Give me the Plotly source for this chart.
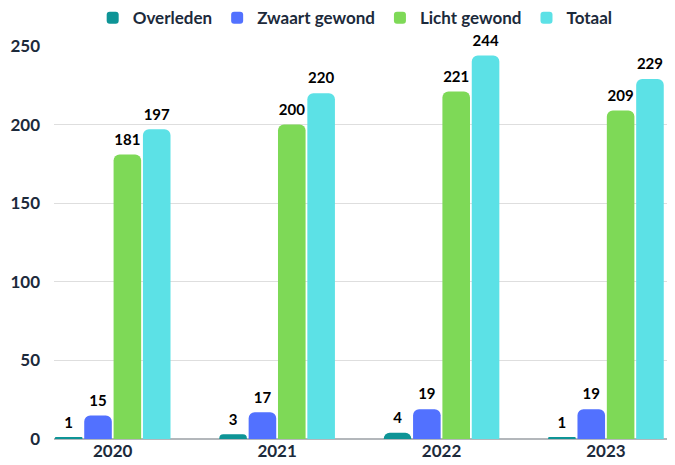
import plotly.graph_objects as go

# Verkeersslachtoffers per jaar
jaren = ["2020", "2021", "2022", "2023"]
overleden = [1, 3, 4, 1]
zwaar_gewond = [15, 17, 19, 19]
licht_gewond = [181, 200, 221, 209]
totaal = [197, 220, 244, 229]

reeksen = [
    ("Overleden", overleden, "#0e9496"),
    ("Zwaart gewond", zwaar_gewond, "#5271ff"),
    ("Licht gewond", licht_gewond, "#7ed957"),
    ("Totaal", totaal, "#5ce1e6"),
]

navy = "#1c2a3b"
gap = 0.286

fig = go.Figure()
for naam, waarden, kleur in reeksen:
    fig.add_trace(go.Bar(name=naam, x=jaren, y=waarden, marker_color=kleur,
                         marker_line_width=0))

# labels als tekst-scatter (gegroepeerd zoals de staven), iets boven de staaf
for naam, waarden, kleur in reeksen:
    fig.add_trace(go.Scatter(
        x=jaren, y=waarden, mode="markers+text", text=waarden,
        textposition="top center", showlegend=False, hoverinfo="skip",
        marker=dict(size=8, color="rgba(0,0,0,0)"), cliponaxis=False,
        textfont=dict(family="Lato", size=15, color="black", weight="bold"),
    ))

# pagina heeft 8px body-marge: figuur iets kleiner zodat er geen scrollbalk komt
fig.update_layout(
    width=667, height=457,
    margin=dict(l=46, r=0, t=38, b=26, autoexpand=False),
    plot_bgcolor="white", paper_bgcolor="white",
    barmode="group", bargap=gap, bargroupgap=0.06, barcornerradius=6,
    scattermode="group", scattergap=gap,
    font=dict(family="Lato", size=16, color=navy, weight="bold"),
    legend=dict(orientation="h", x=0.485, xanchor="center", y=1.071, yanchor="middle",
                font=dict(size=17, color=navy, weight="bold"), itemwidth=30,
                bgcolor="rgba(0,0,0,0)", traceorder="normal"),
    showlegend=True,
)
fig.update_xaxes(range=[-0.357, 3.42], showgrid=False, ticks="", showline=False,
                 tickfont=dict(size=17, color=navy, weight="bold"))
fig.update_yaxes(range=[0, 250], dtick=50, showgrid=True, gridcolor="#dedede",
                 gridwidth=1, zeroline=True, zerolinecolor="#b3b7bb", zerolinewidth=2,
                 ticks="", tickfont=dict(size=17, color=navy, weight="bold"),
                 ticklabelstandoff=13)

fig.write_html("out.html")
